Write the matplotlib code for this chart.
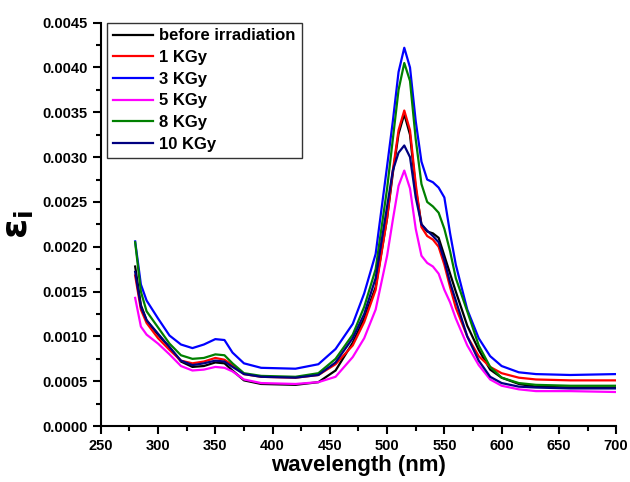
import matplotlib.pyplot as plt
from matplotlib.ticker import MultipleLocator, FormatStrFormatter

plt.rcParams['font.family'] = ['Liberation Sans', 'DejaVu Sans']
plt.rcParams['font.weight'] = 'bold'

wavelength = [280, 285, 290, 300, 310, 320, 330, 340, 350, 358, 365, 375, 390, 420,
              440, 455, 470, 480, 490, 500, 505, 510, 515, 520, 525, 530, 535, 540,
              545, 550, 555, 560, 570, 580, 590, 600, 615, 630, 660, 700]

before = [0.00178, 0.00135, 0.00118, 0.00102, 0.00088, 0.00072, 0.00066, 0.00067, 0.00071, 0.00070,
          0.00062, 0.00051, 0.00047, 0.00046, 0.00049, 0.00062, 0.00093, 0.00120, 0.00155, 0.00232,
          0.00282, 0.00326, 0.00348, 0.00325, 0.00265, 0.00225, 0.00217, 0.00215, 0.00210, 0.00190,
          0.00170, 0.00150, 0.00112, 0.00085, 0.00063, 0.00054, 0.00047, 0.00044, 0.00043, 0.00043]
kgy1 = [0.00168, 0.00130, 0.00115, 0.00098, 0.00085, 0.00073, 0.00070, 0.00072, 0.00076, 0.00074,
        0.00068, 0.00058, 0.00055, 0.00054, 0.00057, 0.00069, 0.00090, 0.00116, 0.00152, 0.00232,
        0.00285, 0.00330, 0.00352, 0.00330, 0.00270, 0.00222, 0.00212, 0.00208, 0.00200, 0.00180,
        0.00155, 0.00132, 0.00100, 0.00078, 0.00066, 0.00059, 0.00054, 0.00052, 0.00051, 0.00051]
kgy3 = [0.00206, 0.00158, 0.00140, 0.00120, 0.00101, 0.00091, 0.00087, 0.00091, 0.00097, 0.00096,
        0.00082, 0.00070, 0.00065, 0.00064, 0.00069, 0.00086, 0.00114, 0.00148, 0.00192, 0.00290,
        0.00340, 0.00395, 0.00422, 0.00400, 0.00340, 0.00295, 0.00275, 0.00272, 0.00266, 0.00255,
        0.00215, 0.00180, 0.00130, 0.00098, 0.00078, 0.00067, 0.00060, 0.00058, 0.00057, 0.00058]
kgy5 = [0.00143, 0.00111, 0.00102, 0.00092, 0.00080, 0.00067, 0.00062, 0.00063, 0.00066, 0.00065,
        0.00061, 0.00052, 0.00048, 0.00047, 0.00049, 0.00055, 0.00077, 0.00098, 0.00130, 0.00190,
        0.00230, 0.00268, 0.00285, 0.00265, 0.00220, 0.00190, 0.00182, 0.00178, 0.00170, 0.00152,
        0.00138, 0.00120, 0.00090, 0.00068, 0.00052, 0.00045, 0.00041, 0.00039, 0.00039, 0.00038]
kgy8 = [0.00205, 0.00150, 0.00128, 0.00110, 0.00092, 0.00079, 0.00075, 0.00076, 0.00080, 0.00079,
        0.00070, 0.00059, 0.00056, 0.00055, 0.00059, 0.00075, 0.00102, 0.00133, 0.00175, 0.00265,
        0.00320, 0.00375, 0.00405, 0.00385, 0.00320, 0.00270, 0.00250, 0.00245, 0.00238, 0.00220,
        0.00195, 0.00165, 0.00128, 0.00090, 0.00066, 0.00054, 0.00048, 0.00046, 0.00045, 0.00045]
kgy10 = [0.00172, 0.00133, 0.00118, 0.00103, 0.00088, 0.00073, 0.00068, 0.00070, 0.00073, 0.00072,
         0.00066, 0.00058, 0.00055, 0.00054, 0.00057, 0.00071, 0.00098, 0.00125, 0.00165, 0.00245,
         0.00285, 0.00305, 0.00313, 0.00300, 0.00255, 0.00225, 0.00218, 0.00212, 0.00205, 0.00185,
         0.00160, 0.00140, 0.00100, 0.00073, 0.00055, 0.00048, 0.00044, 0.00043, 0.00042, 0.00042]

labels = ["before irradiation", "1 KGy", "3 KGy", "5 KGy", "8 KGy", "10 KGy"]
colors = ["black", "#FF0000", "#0000FF", "#FF00FF", "#008000", "#000080"]
series = [before, kgy1, kgy3, kgy5, kgy8, kgy10]

fig = plt.figure(figsize=(6.3, 4.82), dpi=100)
ax = fig.add_axes([0.160, 0.116, 0.818, 0.837])

for y, c, lab in zip(series, colors, labels):
    ax.plot(wavelength, y, color=c, lw=1.6, label=lab)

ax.set_xlim(250, 700)
ax.set_ylim(0, 0.0045)
ax.xaxis.set_major_locator(MultipleLocator(50))
ax.xaxis.set_minor_locator(MultipleLocator(25))
ax.yaxis.set_major_locator(MultipleLocator(0.0005))
ax.yaxis.set_minor_locator(MultipleLocator(0.00025))
ax.yaxis.set_major_formatter(FormatStrFormatter('%.4f'))

ax.spines['top'].set_visible(False)
ax.spines['right'].set_visible(False)
ax.spines['left'].set_linewidth(1.5)
ax.spines['bottom'].set_linewidth(1.5)
ax.tick_params(which='major', length=6, width=1.5, labelsize=10.5, direction='out')
ax.tick_params(which='minor', length=3.5, width=1.5, direction='out')

ax.set_xlabel("wavelength (nm)", fontsize=16, fontweight='bold', labelpad=1)
ax.set_ylabel(r"$\mathbf{\varepsilon_i}$", fontsize=26, labelpad=5)

leg = ax.legend(loc='upper left', bbox_to_anchor=(0.012, 1.0), fontsize=12,
                frameon=True, fancybox=False, handlelength=2.4, borderaxespad=0,
                labelspacing=0.4, handletextpad=0.4, borderpad=0.35)
leg.get_frame().set_edgecolor('black')
leg.get_frame().set_linewidth(1.0)

fig.savefig("out.png", dpi=100)
